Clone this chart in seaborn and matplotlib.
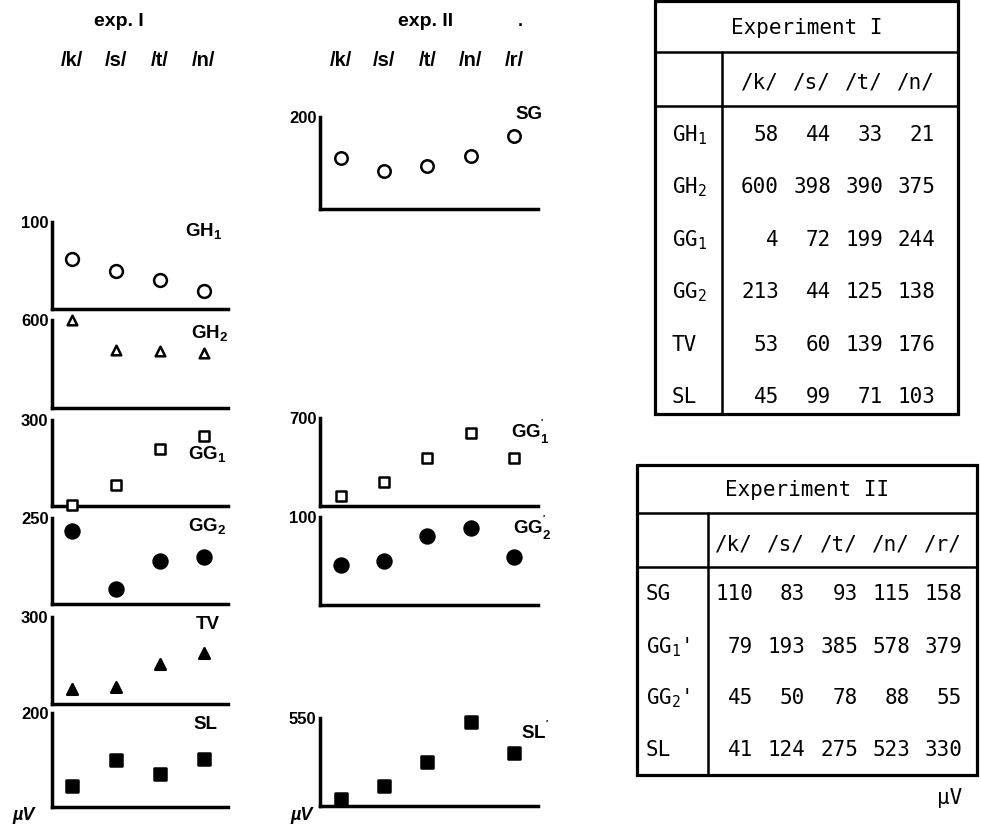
import numpy as np
import pandas as pd
import matplotlib
matplotlib.use("Agg")
import matplotlib.pyplot as plt
import matplotlib.transforms as mtransforms
import seaborn as sns

sns.set_style("white")
plt.rcParams['font.family'] = ['Liberation Sans', 'DejaVu Sans']
plt.rcParams['text.color'] = 'black'
plt.rcParams['axes.labelcolor'] = 'black'
plt.rcParams['xtick.color'] = 'black'
plt.rcParams['ytick.color'] = 'black'
plt.rcParams['mathtext.fontset'] = 'custom'
plt.rcParams['mathtext.rm'] = 'DejaVu Sans Mono'
plt.rcParams['mathtext.bf'] = 'Liberation Sans:bold'
plt.rcParams['mathtext.it'] = 'DejaVu Sans Mono:italic'

# --- data (microvolts) ---
phon1 = ['/k/', '/s/', '/t/', '/n/']
phon2 = ['/k/', '/s/', '/t/', '/n/', '/r/']

gh1 = [58, 44, 33, 21]
gh2 = [600, 398, 390, 375]
gg1 = [4, 72, 199, 244]
gg2 = [213, 44, 125, 138]
tv = [53, 60, 139, 176]
sl1 = [45, 99, 71, 103]

sg = [110, 83, 93, 115, 158]
gg1p = [79, 193, 385, 578, 379]
gg2p = [45, 50, 78, 88, 55]
sl2 = [41, 124, 275, 523, 330]

top1 = [100, 600, 300, 250, 300, 200]
top2 = [200, 700, 100, 550]

names1_plot = ['GH$_\\mathbf{1}$', 'GH$_\\mathbf{2}$', 'GG$_\\mathbf{1}$', 'GG$_\\mathbf{2}$', 'TV', 'SL']
names2_plot = ['SG', "GG$_\\mathbf{1}^\\mathbf{'}$", "GG$_\\mathbf{2}^\\mathbf{'}$", "SL$^\\mathbf{'}$"]
names1_tab = ['GH$_1$', 'GH$_2$', 'GG$_1$', 'GG$_2$', 'TV', 'SL']
names2_tab = ['SG', "GG$_1$'", "GG$_2$'", 'SL']

W, H = 981, 827
fig = plt.figure(figsize=(W / 100, H / 100), dpi=100)
fig.patch.set_facecolor('white')


def px_axes(l, t, r, b):
    return fig.add_axes([l / W, 1 - b / H, (r - l) / W, (b - t) / H])


def panel(ax, phon, vals, ymax, xlim, marker, face, size, label, lx, ly):
    df = pd.DataFrame({'phoneme': phon, 'uV': vals})
    df['pos'] = np.arange(len(phon))
    sns.scatterplot(data=df, x='pos', y='uV', ax=ax, marker=marker, s=size,
                    color=face, edgecolor='black', linewidth=1.8,
                    clip_on=False, zorder=5, legend=False)
    ax.set_xlim(*xlim)
    ax.set_ylim(0, ymax)
    ax.set_facecolor('none')
    sns.despine(ax=ax)
    for s in ['left', 'bottom']:
        ax.spines[s].set_linewidth(2.5)
        ax.spines[s].set_color('black')
    ax.set_xticks([])
    ax.set_yticks([ymax])
    ax.set_yticklabels([str(ymax)], fontweight='bold', fontsize=12)
    ax.tick_params(axis='y', length=2, width=1.2, pad=0.5, color='black')
    ax.set_xlabel('')
    ax.set_ylabel('')
    ax.text(lx, ly, label, transform=ax.transAxes, ha='right', va='center',
            fontsize=13.5, fontweight='bold')


# --- experiment I panels ---
rows1 = [(222, 309), (320, 408), (420, 506), (518, 604), (617, 704), (713, 807)]
series1 = [gh1, gh2, gg1, gg2, tv, sl1]
marks1 = [('o', 'white', 85), ('^', 'white', 48), ('s', 'white', 52),
          ('o', 'black', 100), ('^', 'black', 58), ('s', 'black', 72)]
lab1 = [(0.97, 0.89), (1.0, 0.84), (0.99, 0.59), (0.99, 0.90), (0.955, 0.91), (0.94, 0.88)]
xl1 = (-0.45, 3.55)
axes1 = []
for (t, b), vals, top, (m, f, s), name, (lx, ly) in zip(rows1, series1, top1, marks1, names1_plot, lab1):
    ax = px_axes(52, t, 228, b)
    panel(ax, phon1, vals, top, xl1, m, f, s, name, lx, ly)
    axes1.append(ax)

# --- experiment II panels ---
rows2 = [(117, 209), (418, 506), (517, 605), (718, 806)]
series2 = [sg, gg1p, gg2p, sl2]
marks2 = [('o', 'white', 80), ('s', 'white', 52), ('o', 'black', 100), ('s', 'black', 72)]
lab2 = [(1.02, 1.03), (1.05, 0.84), (1.06, 0.875), (1.05, 0.85)]
xl2 = (-0.48, 4.55)
axes2 = []
for (t, b), vals, top, (m, f, s), name, (lx, ly) in zip(rows2, series2, top2, marks2, names2_plot, lab2):
    ax = px_axes(320, t, 538, b)
    panel(ax, phon2, vals, top, xl2, m, f, s, name, lx, ly)
    axes2.append(ax)

# --- headers over the panels ---
for ax, phon, title, tx in [(axes1[0], phon1, 'exp. I', 119), (axes2[0], phon2, 'exp. II', 426)]:
    tr = mtransforms.blended_transform_factory(ax.transData, fig.transFigure)
    for i, p in enumerate(phon):
        ax.text(i, 1 - 61 / H, p, transform=tr, ha='center', va='center',
                fontsize=14.5, fontweight='bold')
    fig.text(tx / W, 1 - 21 / H, title, ha='center', va='center',
             fontsize=14, fontweight='bold')
fig.text(520 / W, 1 - 22 / H, '.', ha='center', va='center', fontsize=13, fontweight='bold')

for x in [24, 302]:
    fig.text(x / W, 1 - 816 / H, 'µV', ha='center', va='center', fontsize=13,
             fontweight='bold', fontstyle='italic')

# --- tables ---
tab = fig.add_axes([0, 0, 1, 1])
tab.set_xlim(0, W)
tab.set_ylim(H, 0)
tab.axis('off')
tab.set_facecolor('none')
mono = 'DejaVu Sans Mono'


def table(l, r, t, sep1, sep2, b, div, title, heads, col_r, row_y, names, data, head_y, title_y, name_x):
    tab.plot([l, r, r, l, l], [t, t, b, b, t], color='black', lw=2.3, solid_joinstyle='miter')
    tab.plot([l, r], [sep1, sep1], color='black', lw=1.8)
    tab.plot([l, r], [sep2, sep2], color='black', lw=1.8)
    tab.plot([div, div], [sep1, b], color='black', lw=1.8)
    tab.text((l + r) / 2, title_y, title, ha='center', va='center', fontsize=15, family=mono)
    for x, h in zip(col_r, heads):
        tab.text(x, head_y, h, ha='right', va='center', fontsize=15, family=mono)
    for y, nm, vals in zip(row_y, names, data):
        tab.text(name_x, y, nm, ha='left', va='center', fontsize=15, family=mono)
        for x, v in zip(col_r, vals):
            tab.text(x, y, str(v), ha='right', va='center', fontsize=15, family=mono)


table(655, 958, 1, 52, 106, 414, 722, 'Experiment I', phon1,
      [779, 831, 883, 935], [135, 187, 240, 292, 345, 397], names1_tab, series1,
      83, 28, 672)
table(637, 977, 465, 513, 567, 775, 708, 'Experiment II', phon2,
      [753, 805, 858, 910, 962], [594, 647, 698, 750], names2_tab, series2,
      545, 490, 646)
tab.text(962, 798, 'µV', ha='right', va='center', fontsize=15, family=mono)

fig.savefig('out.png', dpi=100, facecolor='white')
